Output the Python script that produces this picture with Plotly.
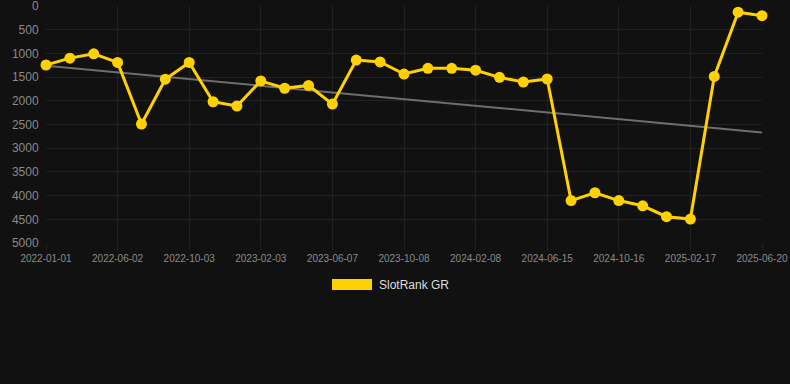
import plotly.graph_objects as go

dates = [
    "2022-01-01", "2022-02-20", "2022-04-11", "2022-06-02", "2022-07-13", "2022-08-23",
    "2022-10-03", "2022-11-12", "2022-12-24", "2023-02-03", "2023-03-16", "2023-04-27",
    "2023-06-07", "2023-07-18", "2023-08-28", "2023-10-08", "2023-11-18", "2023-12-29",
    "2024-02-08", "2024-03-20", "2024-05-03", "2024-06-15", "2024-07-26", "2024-09-05",
    "2024-10-16", "2024-11-26", "2025-01-06", "2025-02-17", "2025-03-30", "2025-05-10",
    "2025-06-20",
]
rank = [
    1245, 1100, 1010, 1190, 2490, 1545, 1190, 2020, 2110, 1580, 1735, 1675,
    2070, 1140, 1180, 1435, 1315, 1315, 1355, 1505, 1605, 1540, 4105, 3940,
    4105, 4215, 4445, 4495, 1485, 130, 205,
]
trend_dates = [dates[0], dates[-1]]
trend_values = [1260, 2670]
tick_labels = dates[::3]
y_ticks = [0, 500, 1000, 1500, 2000, 2500, 3000, 3500, 4000, 4500, 5000]

fig = go.Figure()
fig.add_trace(go.Scatter(
    x=trend_dates, y=trend_values, mode="lines",
    line=dict(color="#6e6e6e", width=2), showlegend=False, hoverinfo="skip",
    cliponaxis=False,
))
fig.add_trace(go.Scatter(
    x=dates, y=rank, mode="lines+markers", name="SlotRank GR",
    line=dict(color="#FFD100", width=3),
    marker=dict(color="#FFD100", size=11),
    cliponaxis=False, showlegend=False,
))

fig.update_layout(
    width=790, height=384,
    paper_bgcolor="#111111", plot_bgcolor="#111111",
    margin=dict(l=46, r=28, t=6, b=141),
    font=dict(family="Liberation Sans, Arial, sans-serif", color="#8a8a8a"),
    xaxis=dict(
        type="category", categoryorder="array", categoryarray=dates,
        range=[0, 30], tickmode="array", tickvals=tick_labels, ticktext=tick_labels,
        showgrid=True, gridcolor="#212121", gridwidth=1, zeroline=False,
        tickfont=dict(size=10, color="#8a8a8a"),
        ticks="outside", ticklen=6, tickcolor="#212121", showline=False,
        ticklabeloverflow="allow", automargin=False,
    ),
    yaxis=dict(
        range=[5000, 0], tickmode="array", tickvals=y_ticks,
        showgrid=True, gridcolor="#212121", gridwidth=1, zeroline=False,
        tickfont=dict(size=12, color="#8a8a8a"),
        ticks="outside", ticklen=4, tickcolor="#111111",
        ticklabeloverflow="allow", automargin=False,
    ),
    shapes=[dict(
        type="rect", xref="paper", yref="paper",
        x0=(332 - 46) / 716, x1=(372 - 46) / 716,
        y0=(384 - 141 - 290) / 237, y1=(384 - 141 - 279) / 237,
        fillcolor="#FFD100", line=dict(width=0),
    )],
    annotations=[dict(
        text="SlotRank GR", xref="paper", yref="paper",
        x=(377 - 46) / 716, y=(384 - 141 - 284.5) / 237,
        xanchor="left", yanchor="middle", showarrow=False,
        font=dict(size=12, color="#dddddd"),
    )],
)

fig.write_html("out.html", config={"displayModeBar": False})
with open("out.html", "r", encoding="utf-8") as f:
    html = f.read()
html = html.replace("<head>", "<head><style>html,body{margin:0;padding:0;background:#111111;overflow:hidden;}</style>", 1)
with open("out.html", "w", encoding="utf-8") as f:
    f.write(html)
